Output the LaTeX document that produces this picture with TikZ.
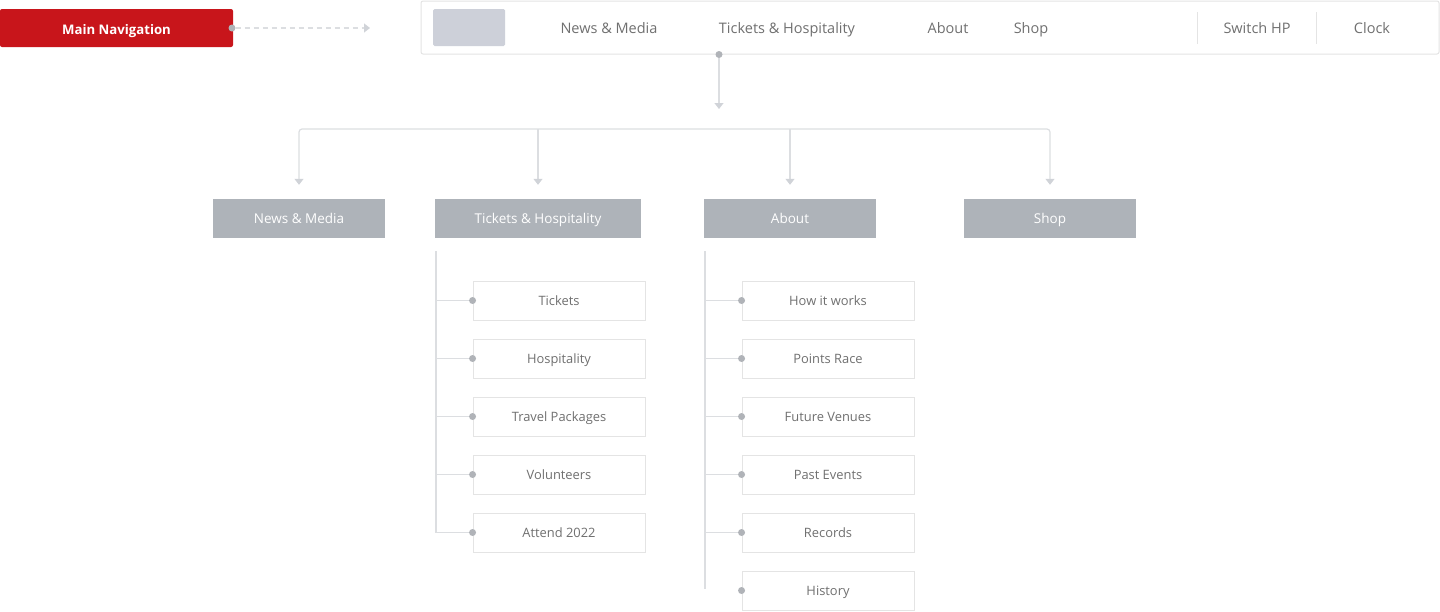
\documentclass[tikz,border=0pt]{standalone}
\usepackage{fontspec}
\setmainfont{Open Sans}
\usetikzlibrary{arrows.meta,calc}
\definecolor{navred}{HTML}{C8151B}
\definecolor{catgray}{HTML}{AEB3B9}
\definecolor{logogray}{HTML}{CDD0D9}
\definecolor{linegray}{HTML}{DCDEE1}
\definecolor{tipgray}{HTML}{D0D3D8}
\definecolor{dotgray}{HTML}{B0B3B8}
\definecolor{txtgray}{HTML}{707070}
\definecolor{bordergray}{HTML}{E4E4E4}
\tikzset{
  fixtext/.style={text height=1.0em, text depth=0pt},
  mainnav/.style={fill=navred, rounded corners=2pt, minimum width=233, minimum height=38, inner sep=0, text=white, font=\bfseries\fontsize{13.2}{15}\selectfont, text height=1.25em, text depth=0pt},
  navbar/.style={draw=bordergray, line width=1pt, rounded corners=2pt, fill=white, minimum width=1018, minimum height=53, inner sep=0},
  logo/.style={fill=logogray, rounded corners=1.5pt, minimum width=72, minimum height=37, inner sep=0},
  navtext/.style={text=txtgray, font=\fontsize{14.5}{17}\selectfont, inner sep=0, fixtext},
  sep/.style={draw=bordergray, line width=1pt},
  catbox/.style={fill=catgray, minimum height=39, inner sep=0, text=white, font=\fontsize{13.5}{16}\selectfont, fixtext},
  childbox/.style={draw=bordergray, line width=0.9pt, fill=white, minimum width=172, minimum height=39, inner sep=0, text=txtgray, font=\fontsize{12.9}{15}\selectfont, fixtext},
  dotnode/.style={circle, fill=dotgray, minimum size=7, inner sep=0},
  conn/.style={draw=linegray, line width=1.2pt},
  tipconn/.style={conn, -{Triangle[width=9pt,length=6pt,color=tipgray]}},
}
\begin{document}
\begin{tikzpicture}[x=1pt,y=-1pt]
\useasboundingbox (0,0) rectangle (1440,611);
% main navigation label
\node[mainnav] (main) at (116.5,28) {Main Navigation};
\node[dotnode] (mdot) at (232,28) {};
\coordinate (marrow) at (370,28);
\draw[tipconn, dashed, dash pattern=on 5pt off 4pt] (mdot) -- (marrow);
% nav bar
\node[navbar] (nav) at (930,27.5) {};
\node[logo] (logo) at (469,27.5) {};
\node[navtext] (n1) at (609,28) {News \& Media};
\node[navtext] (n2) at (787,28) {Tickets \& Hospitality};
\node[navtext] (n3) at (948,28) {About};
\node[navtext] (n4) at (1031,28) {Shop};
\node[navtext] (n5) at (1257,28) {Switch HP};
\node[navtext] (n6) at (1372,28) {Clock};
\draw[sep] (1197,12) -- (1197,44);
\draw[sep] (1316,12) -- (1316,44);
\node[dotnode] (tdot) at (719,54.5) {};
\coordinate (tarrow) at (719,109);
\draw[tipconn] (tdot) -- (tarrow);
% categories
\node[catbox, minimum width=172] (c1) at (299,218.5) {News \& Media};
\node[catbox, minimum width=206] (c2) at (538,218.5) {Tickets \& Hospitality};
\node[catbox, minimum width=172] (c3) at (790,218.5) {About};
\node[catbox, minimum width=172] (c4) at (1050,218.5) {Shop};
\coordinate (bar) at (719,129);
\draw[conn, rounded corners=3pt, {Triangle[width=9pt,length=6pt,color=tipgray]}-{Triangle[width=9pt,length=6pt,color=tipgray]}]
  ($(c1.north)+(0,-14)$) |- (bar) -| ($(c4.north)+(0,-14)$);
\draw[tipconn] (c2.north |- bar) -- ($(c2.north)+(0,-14)$);
\draw[tipconn] (c3.north |- bar) -- ($(c3.north)+(0,-14)$);
% tickets children
\node[childbox] (t1) at (559,300.5) {Tickets};
\node[childbox] (t2) at (559,358.5) {Hospitality};
\node[childbox] (t3) at (559,416.5) {Travel Packages};
\node[childbox] (t4) at (559,474.5) {Volunteers};
\node[childbox] (t5) at (559,532.5) {Attend 2022};
\foreach \i in {1,...,5} {\node[dotnode] (td\i) at (t\i.west) {};}
\coordinate (tv) at (436,251);
\draw[conn] (tv) |- (td5);
\foreach \i in {1,...,4} {\draw[conn] (tv |- td\i) -- (td\i);}
% about children
\node[childbox] (a1) at (828,300.5) {How it works};
\node[childbox] (a2) at (828,358.5) {Points Race};
\node[childbox] (a3) at (828,416.5) {Future Venues};
\node[childbox] (a4) at (828,474.5) {Past Events};
\node[childbox] (a5) at (828,532.5) {Records};
\node[childbox] (a6) at (828,590.5) {History};
\foreach \i in {1,...,6} {\node[dotnode] (ad\i) at (a\i.west) {};}
\coordinate (av) at (705,251);
\coordinate (avend) at (705,589);
\draw[conn] (av) -- (avend);
\foreach \i in {1,...,5} {\draw[conn] (av |- ad\i) -- (ad\i);}
\end{tikzpicture}
\end{document}
